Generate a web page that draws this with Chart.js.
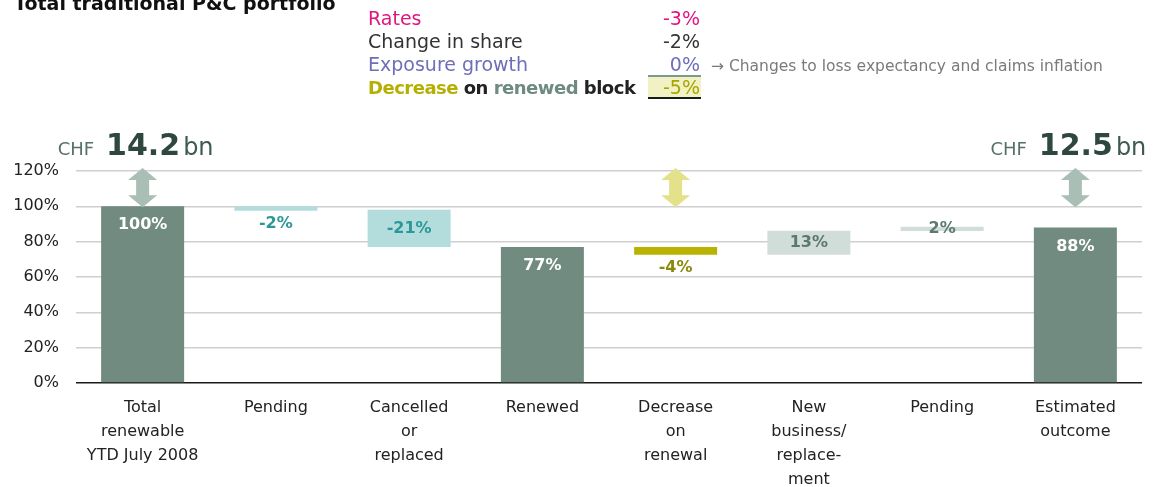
<!DOCTYPE html>
<html>
<head>
<meta charset="utf-8">
<script src="https://cdn.jsdelivr.net/npm/chart.js@4.4.1/dist/chart.umd.min.js"></script>
<style>
  body { margin: 0; background: #fff; font-family: "DejaVu Sans", sans-serif; }
  #wrap { position: relative; width: 1154px; height: 487px; overflow: hidden; }
  #wrap canvas { position: absolute; left: 0; top: 0; }
  .t { position: absolute; white-space: nowrap; line-height: 23px; font-size: 19px; }
  .r { text-align: right; }
  #title { left: 14px; top: -7px; font-weight: bold; font-size: 19px; color: #111; line-height: 20px; }
  #hl { position: absolute; left: 648px; top: 75px; width: 53px; height: 20px;
        background: #f1f1c3; border-top: 2px solid #7c9990; border-bottom: 2px solid #1a1a1a; }
</style>
</head>
<body>
<div id="wrap">
  <canvas id="chart" width="1154" height="487"></canvas>
  <div id="title" class="t">Total traditional P&amp;C portfolio</div>
  <div id="hl"></div>
  <div class="t" style="left:368px;top:7px;color:#e0157f">Rates</div>
  <div class="t r" style="right:454px;top:7px;color:#e0157f">-3%</div>
  <div class="t" style="left:368px;top:30px;color:#333">Change in share</div>
  <div class="t r" style="right:454px;top:30px;color:#333">-2%</div>
  <div class="t" style="left:368px;top:53px;color:#6e6eb9">Exposure growth</div>
  <div class="t r" style="right:454px;top:53px;color:#6e6eb9">0%</div>
  <div class="t" style="left:368px;top:76px;font-weight:bold;font-size:18px;letter-spacing:-0.5px;color:#222"><span style="color:#b5b000">Decrease</span> on <span style="color:#6f8a80">renewed</span> block</div>
  <div class="t r" style="right:454px;top:76px;color:#a8a400">-5%</div>
  <div class="t" style="left:711px;top:55px;font-size:15.5px;color:#7a7a7a">&rarr; Changes to loss expectancy and claims inflation</div>
</div>
<script>
// chart values
const categories = [
  ["Total", "renewable", "YTD July 2008"],
  "Pending",
  ["Cancelled", "or", "replaced"],
  "Renewed",
  ["Decrease", "on", "renewal"],
  ["New", "business/", "replace-", "ment"],
  "Pending",
  ["Estimated", "outcome"]
];
const barStart = [0, 97.5, 77, 0, 72.6, 72.6, 86, 0];
const barEnd = [100, 100, 98, 77, 77, 86.2, 88.5, 88];
const barText = ["100%", "-2%", "-21%", "77%", "-4%", "13%", "2%", "88%"];
const yTicks = [0, 20, 40, 60, 80, 100, 120];
const headlineCats = [0, 7];
const headlineAmounts = ["14.2", "12.5"];
const arrowCats = [0, 4, 7];
const arrowSpan = [99.5, 121.7];

// styles
const barColors = ["#718b80", "#b3dcdc", "#b3dcdc", "#718b80", "#b9b300", "#d1ddd8", "#d1ddd8", "#718b80"];
const labelColors = ["#ffffff", "#2a9898", "#2a9898", "#ffffff", "#8c8a0e", "#5d786e", "#5d786e", "#ffffff"];
const labelPlace = ["top", "below", "center", "top", "below", "center", "center", "top"];
const arrowColors = ["#a9beb4", "#e3e18a", "#a9beb4"];

function drawArrow(ctx, cx, top, bottom, color) {
  const hw = 14.5, sw = 6.5, hl = 12;
  ctx.beginPath();
  ctx.moveTo(cx, top);
  ctx.lineTo(cx + hw, top + hl);
  ctx.lineTo(cx + sw, top + hl);
  ctx.lineTo(cx + sw, bottom - hl);
  ctx.lineTo(cx + hw, bottom - hl);
  ctx.lineTo(cx, bottom);
  ctx.lineTo(cx - hw, bottom - hl);
  ctx.lineTo(cx - sw, bottom - hl);
  ctx.lineTo(cx - sw, top + hl);
  ctx.lineTo(cx - hw, top + hl);
  ctx.closePath();
  ctx.fillStyle = color;
  ctx.fill();
}

const annotations = {
  id: "annotations",
  afterDatasetsDraw(chart) {
    const { ctx, scales: { x, y } } = chart;
    const meta = chart.getDatasetMeta(0);
    ctx.save();

    // labels on the bars
    ctx.textAlign = "center";
    ctx.textBaseline = "middle";
    ctx.font = 'bold 16px "DejaVu Sans"';
    meta.data.forEach((bar, i) => {
      const top = y.getPixelForValue(barEnd[i]);
      const bottom = y.getPixelForValue(barStart[i]);
      let ty = (top + bottom) / 2;
      if (labelPlace[i] === "top") ty = top + 19;
      if (labelPlace[i] === "below") ty = bottom + 13;
      ctx.fillStyle = labelColors[i];
      ctx.fillText(barText[i], bar.x, ty);
    });

    // double arrows
    arrowCats.forEach((c, k) => {
      drawArrow(ctx, x.getPixelForValue(c), y.getPixelForValue(arrowSpan[1]),
        y.getPixelForValue(arrowSpan[0]), arrowColors[k]);
    });

    // CHF headlines
    ctx.textAlign = "left";
    ctx.textBaseline = "alphabetic";
    headlineCats.forEach((c, k) => {
      const parts = [
        { s: "CHF", f: '18px "DejaVu Sans"', col: "#56716a", gap: 12 },
        { s: headlineAmounts[k], f: 'bold 30px "DejaVu Sans"', col: "#2e473f", gap: 3 },
        { s: "bn", f: '24px "DejaVu Sans"', col: "#3d5a52", gap: 0 }
      ];
      let w = 0;
      parts.forEach(p => { ctx.font = p.f; w += ctx.measureText(p.s).width + p.gap; });
      let px = x.getPixelForValue(c) - 7 - w / 2;
      parts.forEach(p => {
        ctx.font = p.f;
        ctx.fillStyle = p.col;
        ctx.fillText(p.s, px, 155);
        px += ctx.measureText(p.s).width + p.gap;
      });
    });
    ctx.restore();
  }
};

new Chart(document.getElementById("chart"), {
  type: "bar",
  data: {
    labels: categories,
    datasets: [{
      data: categories.map((c, i) => [barStart[i], barEnd[i]]),
      backgroundColor: barColors,
      borderWidth: 0,
      barPercentage: 0.623,
      categoryPercentage: 1
    }]
  },
  options: {
    responsive: false,
    animation: false,
    layout: { padding: { top: 171, right: 12, left: 0, bottom: 0 } },
    plugins: { legend: { display: false }, tooltip: { enabled: false } },
    scales: {
      x: {
        grid: { display: false },
        border: { display: false },
        afterFit(scale) { scale.height = 104; },
        ticks: {
          color: "#222",
          font: { family: "DejaVu Sans", size: 16, lineHeight: 1.5 },
          padding: 5,
          maxRotation: 0,
          autoSkip: false
        }
      },
      y: {
        min: 0,
        max: 120,
        afterFit(scale) { scale.width = 76; },
        afterBuildTicks(scale) { scale.ticks = yTicks.map(v => ({ value: v })); },
        border: { display: false },
        grid: {
          drawTicks: false,
          color: ctx => ctx.tick.value === 0 ? "#1a1a1a" : "#cfcfcf",
          lineWidth: 1.5
        },
        ticks: {
          color: "#222",
          font: { family: "DejaVu Sans", size: 16 },
          padding: 17,
          callback: v => v + "%"
        }
      }
    }
  },
  plugins: [annotations]
});
</script>
</body>
</html>
